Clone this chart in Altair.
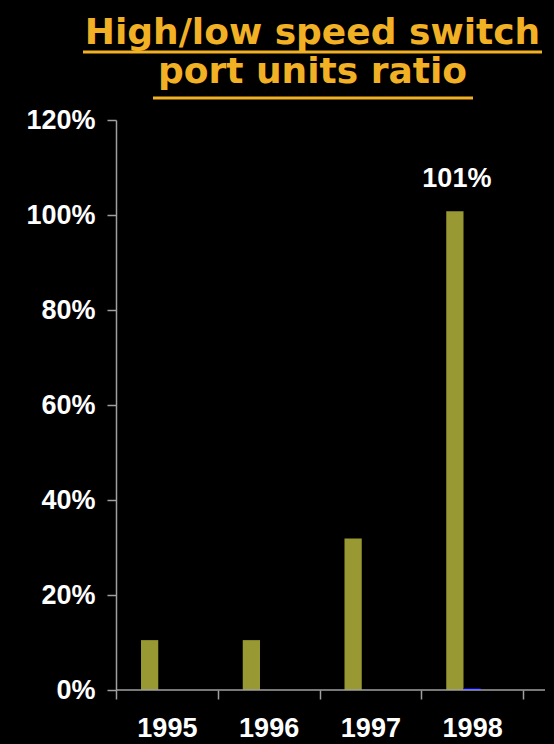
import altair as alt
import pandas as pd

years = ["1995", "1996", "1997", "1998"]
high_low = [0.105, 0.105, 0.319, 1.008]
second = [0.0, 0.0, 0.0, 0.004]
third = [0.0, 0.0, 0.0, 0.0]
series_names = ["A", "B", "C"]
series_colors = ["#999933", "#0000FF", "#FF00FF"]
title_lines = ["High/low speed switch", "port units ratio"]
y_ticks = [0, 0.2, 0.4, 0.6, 0.8, 1.0, 1.2]
labelled_year = "1998"

rows = []
for name, vals in zip(series_names, [high_low, second, third]):
    for yr, v in zip(years, vals):
        rows.append({"year": yr, "series": name, "value": v})
df = pd.DataFrame(rows)

AXIS_GREY = "#a0a0a0"
TITLE_COL = "#F2B125"
FONT = "Liberation Sans"

x = alt.X(
    "year:N",
    scale=alt.Scale(domain=years, paddingInner=0, paddingOuter=0),
    axis=alt.Axis(
        title=None, labelAngle=0, domain=False, tickBand="extent",
        tickSize=9, tickColor=AXIS_GREY, tickWidth=1.5,
        labelColor="white", labelFont=FONT, labelFontWeight="bold",
        labelFontSize=27, labelPadding=16,
    ),
)
xoff = alt.XOffset(
    "series:N",
    scale=alt.Scale(domain=series_names, range=[25, 76.75], paddingInner=0, paddingOuter=0),
)
y = alt.Y(
    "value:Q",
    scale=alt.Scale(domain=[0, 1.2], nice=False),
    axis=alt.Axis(
        title=None, values=y_ticks, format=".0%", grid=False,
        domainColor=AXIS_GREY, domainWidth=1.5,
        tickColor=AXIS_GREY, tickWidth=1.5, tickSize=9,
        labelColor="white", labelFont=FONT, labelFontWeight="bold",
        labelFontSize=27, labelPadding=12,
    ),
)

bars = alt.Chart(df).mark_bar().encode(
    x=x, xOffset=xoff, y=y,
    color=alt.Color("series:N", scale=alt.Scale(domain=series_names, range=series_colors), legend=None),
)

label = alt.Chart(df).transform_filter(
    (alt.datum.series == series_names[0]) & (alt.datum.year == labelled_year)
).mark_text(
    color="white", font=FONT, fontWeight="bold", fontSize=27, baseline="alphabetic", dy=-24, dx=2
).encode(
    x=x, xOffset=xoff, y=y, text=alt.Text("value:Q", format=".0%")
)

one = pd.DataFrame({"k": [0]})
axis_line = alt.Chart(one).mark_rule(color=AXIS_GREY, strokeWidth=1.5).encode(
    x=alt.value(0), x2=alt.value(429), y=alt.datum(0)
)

t1 = alt.Chart(one).mark_text(
    font="DejaVu Sans", fontWeight="bold", fontSize=36, color=TITLE_COL, baseline="alphabetic", align="center"
).encode(x=alt.value(196.5), y=alt.value(-76), text=alt.value(title_lines[0]))
t2 = alt.Chart(one).mark_text(
    font="DejaVu Sans", fontWeight="bold", fontSize=36, color=TITLE_COL, baseline="alphabetic", align="center"
).encode(x=alt.value(196.5), y=alt.value(-37), text=alt.value(title_lines[1]))
u1 = alt.Chart(one).mark_rule(color=TITLE_COL, strokeWidth=3).encode(
    x=alt.value(-33), x2=alt.value(426), y=alt.value(-68)
)
u2 = alt.Chart(one).mark_rule(color=TITLE_COL, strokeWidth=3).encode(
    x=alt.value(37), x2=alt.value(357), y=alt.value(-22)
)

chart = alt.layer(bars, label, axis_line, t1, t2, u1, u2).properties(
    width=407, height=570,
    background="black",
    autosize=alt.AutoSizeParams(type="none"),
    padding={"left": 116, "top": 120, "right": 31, "bottom": 54},
).configure_view(stroke=None)

chart.save("out.html", embed_options={"renderer": "svg", "actions": False})
